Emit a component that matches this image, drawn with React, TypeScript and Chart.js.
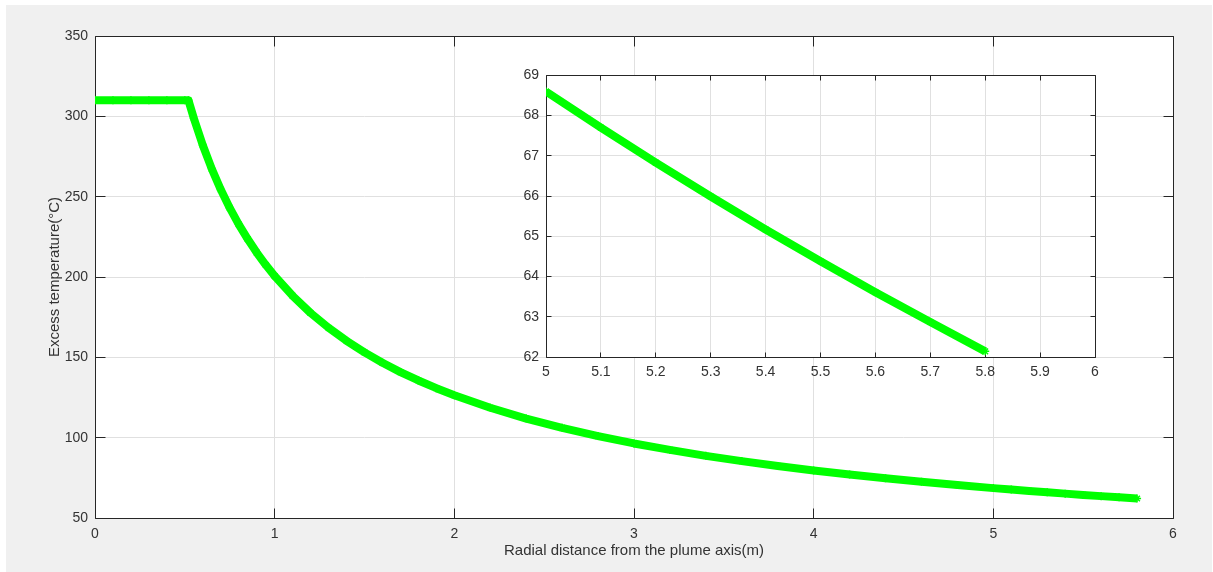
import React, { useEffect, useRef } from "react";
import { Chart, registerables } from "chart.js";

Chart.register(...registerables);

// Radial distance (m)
const radialDistance = [
  0, 0.1, 0.2, 0.3, 0.4, 0.5, 0.52, 0.55, 0.6, 0.65, 0.7, 0.75, 0.8, 0.85, 0.9, 0.95,
  1.0, 1.1, 1.2, 1.3, 1.4, 1.5, 1.6, 1.7, 1.8, 1.9, 2.0, 2.2, 2.4, 2.6, 2.8, 3.0,
  3.2, 3.4, 3.6, 3.8, 4.0, 4.2, 4.4, 4.6, 4.8, 5.0, 5.1, 5.2, 5.3, 5.4, 5.5, 5.6,
  5.7, 5.8,
];
// Excess temperature (°C)
const excessTemperature = [
  310, 310, 310, 310, 310, 310, 310, 298.8, 282.0, 267.3, 254.4, 243.0, 232.8, 223.6, 215.2, 207.6,
  200.6, 188.3, 177.6, 168.4, 160.3, 153.1, 146.6, 140.8, 135.6, 130.8, 126.4, 118.6, 111.9, 106.1, 101.0, 96.4,
  92.4, 88.7, 85.4, 82.4, 79.6, 77.1, 74.7, 72.5, 70.5, 68.6, 67.7, 66.83, 65.99, 65.17, 64.38, 63.61,
  62.87, 62.14,
];

const mainXTicks = [0, 1, 2, 3, 4, 5, 6];
const mainYTicks = [50, 100, 150, 200, 250, 300, 350];
const insetXTicks = [5, 5.1, 5.2, 5.3, 5.4, 5.5, 5.6, 5.7, 5.8, 5.9, 6];
const insetYTicks = [62, 63, 64, 65, 66, 67, 68, 69];
const insetStart = 5;

const xTitle = "Radial distance from the plume axis(m)";
const yTitle = "Excess temperature(°C)";

const FONT = "'Liberation Sans', Arial, Helvetica, sans-serif";
const TEXT = "#333333";
const AXIS = "#262626";
const GRID = "#e0e0e0";
const GREEN = "#00ff00";

const al = (p: number) => Math.round(p - 0.5) + 0.5;

function boxPlugin(tickLen: number, fillPage: boolean) {
  return {
    id: "boxPlugin",
    beforeDraw(chart: any) {
      const { ctx, chartArea } = chart;
      ctx.save();
      if (fillPage) {
        ctx.fillStyle = "#ffffff";
        ctx.fillRect(0, 0, chart.width, chart.height);
        ctx.fillStyle = "#f0f0f0";
        ctx.fillRect(6, 5, chart.width - 7, chart.height - 5);
      }
      ctx.fillStyle = "#ffffff";
      ctx.fillRect(chartArea.left, chartArea.top, chartArea.right - chartArea.left, chartArea.bottom - chartArea.top);
      ctx.restore();
    },
    beforeDatasetsDraw(chart: any) {
      const { ctx, chartArea } = chart;
      const xs = chart.scales.x;
      const ys = chart.scales.y;
      const l = al(chartArea.left);
      const r = al(chartArea.right);
      const t = al(chartArea.top);
      const b = al(chartArea.bottom);
      ctx.save();
      ctx.strokeStyle = AXIS;
      ctx.lineWidth = 1;
      ctx.beginPath();
      ctx.rect(l, t, r - l, b - t);
      xs.ticks.forEach((tk: any) => {
        const px = al(xs.getPixelForValue(tk.value));
        ctx.moveTo(px, b);
        ctx.lineTo(px, b - tickLen);
        ctx.moveTo(px, t);
        ctx.lineTo(px, t + tickLen);
      });
      ys.ticks.forEach((tk: any) => {
        const py = al(ys.getPixelForValue(tk.value));
        ctx.moveTo(l, py);
        ctx.lineTo(l + tickLen, py);
        ctx.moveTo(r, py);
        ctx.lineTo(r - tickLen, py);
      });
      ctx.stroke();
      ctx.restore();
    },
  };
}

function lineDataset(minX: number) {
  const pts = radialDistance
    .map((x, i) => ({ x, y: excessTemperature[i] }))
    .filter((p) => p.x >= minX);
  return {
    data: pts,
    borderColor: GREEN,
    backgroundColor: GREEN,
    borderWidth: 8,
    borderJoinStyle: "round" as const,
    borderCapStyle: "butt" as const,
    pointStyle: "star" as const,
    pointRadius: 4,
    pointBorderWidth: 1.5,
    pointBorderColor: GREEN,
    pointBackgroundColor: GREEN,
    tension: 0,
    fill: false,
  };
}

export default function App() {
  const mainRef = useRef<HTMLCanvasElement>(null);
  const insetRef = useRef<HTMLCanvasElement>(null);

  useEffect(() => {
    const tickFont = { family: FONT, size: 14 };
    const titleFont = { family: FONT, size: 15 };
    const main = new Chart(mainRef.current!, {
      type: "line",
      data: { datasets: [lineDataset(-Infinity)] },
      options: {
        animation: false,
        responsive: false,
        devicePixelRatio: 1,
        layout: { padding: { top: 36, right: 40, left: 0, bottom: 0 } },
        plugins: { legend: { display: false }, tooltip: { enabled: false } },
        scales: {
          x: {
            type: "linear",
            min: 0,
            max: 6,
            afterBuildTicks: (s: any) => {
              s.ticks = mainXTicks.map((v) => ({ value: v }));
            },
            afterFit: (s: any) => {
              s.height = 54;
            },
            ticks: { font: tickFont, color: TEXT, padding: 8, maxRotation: 0, autoSkip: false, callback: (v: any) => String(v) },
            grid: { color: GRID, drawTicks: false },
            border: { display: false },
            title: { display: true, text: xTitle, font: titleFont, color: TEXT, padding: { top: 0, bottom: 12 } },
          },
          y: {
            type: "linear",
            min: 50,
            max: 350,
            afterBuildTicks: (s: any) => {
              s.ticks = mainYTicks.map((v) => ({ value: v }));
            },
            afterFit: (s: any) => {
              s.width = 95;
            },
            ticks: { font: tickFont, color: TEXT, padding: 7, autoSkip: false, callback: (v: any) => String(v) },
            grid: { color: GRID, drawTicks: false },
            border: { display: false },
            title: { display: true, text: yTitle, font: titleFont, color: TEXT, padding: { top: 46, bottom: 0 } },
          },
        },
      },
      plugins: [boxPlugin(10, true)],
    });

    const inset = new Chart(insetRef.current!, {
      type: "line",
      data: { datasets: [lineDataset(insetStart)] },
      options: {
        animation: false,
        responsive: false,
        devicePixelRatio: 1,
        layout: { padding: { top: 12, right: 15, left: 0, bottom: 0 } },
        plugins: { legend: { display: false }, tooltip: { enabled: false } },
        scales: {
          x: {
            type: "linear",
            min: 5,
            max: 6,
            afterBuildTicks: (s: any) => {
              s.ticks = insetXTicks.map((v) => ({ value: v }));
            },
            afterFit: (s: any) => {
              s.height = 33;
            },
            ticks: { font: tickFont, color: TEXT, padding: 7, maxRotation: 0, autoSkip: false, callback: (v: any) => String(v) },
            grid: { color: GRID, drawTicks: false },
            border: { display: false },
          },
          y: {
            type: "linear",
            min: 62,
            max: 69,
            afterBuildTicks: (s: any) => {
              s.ticks = insetYTicks.map((v) => ({ value: v }));
            },
            afterFit: (s: any) => {
              s.width = 46;
            },
            ticks: { font: tickFont, color: TEXT, padding: 7, autoSkip: false, callback: (v: any) => String(v) },
            grid: { color: GRID, drawTicks: false },
            border: { display: false },
          },
        },
      },
      plugins: [boxPlugin(5, false)],
    });

    return () => {
      main.destroy();
      inset.destroy();
    };
  }, []);

  return (
    <div style={{ position: "fixed", left: 0, top: 0, width: 1213, height: 572 }}>
      <canvas
        ref={mainRef}
        width={1213}
        height={572}
        style={{ position: "absolute", left: 0, top: 0, width: 1213, height: 572 }}
      />
      <canvas
        ref={insetRef}
        width={610}
        height={330}
        style={{ position: "absolute", left: 500, top: 60, width: 610, height: 330 }}
      />
    </div>
  );
}
